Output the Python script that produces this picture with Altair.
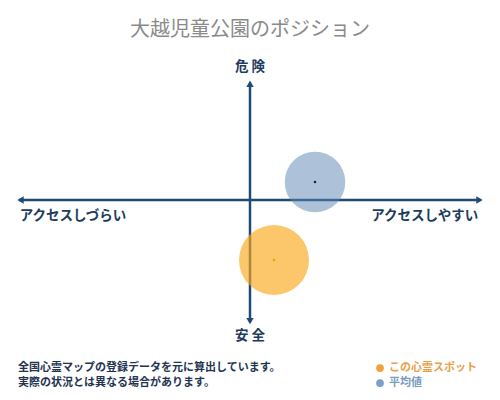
import altair as alt
import pandas as pd

FONT = "Noto Sans CJK JP"
NAVY = "#1f4a75"

# Data: position of this spot and the average (access: -100..100, danger: -100..100)
series = ["この心霊スポット", "平均値"]
access = [10.3, 27.9]
danger = [-48.8, 14.6]
fill_colors = ["#fba71b", "#5c86b4"]
dot_colors = ["#f0a000", "#222222"]

# Axis labels
axis_labels = ["危 険", "安 全", "アクセスしづらい", "アクセスしやすい"]
axis_label_x = [0, 0, -76, 75]
axis_label_y = [108, -110.5, -13, -13]

title_text = "大越児童公園のポジション"
notes = ["全国心霊マップの登録データを元に算出しています。", "実際の状況とは異なる場合があります。"]
note_rows = [-136.6, -148.8]
legend_colors = ["#f2a03c", "#7aa0c8"]
legend_text_colors = ["#e8a04a", "#7a9cc0"]

xs = alt.Scale(domain=[-100, 100], range=[9, 475])
ys = alt.Scale(domain=[-100, 100], range=[315, 69])

pts = pd.DataFrame({"series": series, "access": access, "danger": danger,
                    "fill": fill_colors, "dot": dot_colors})

# axis lines
hline = alt.Chart(pd.DataFrame({"x": [-99], "x2": [99], "y": [0]})).mark_rule(
    color=NAVY, strokeWidth=2.5).encode(
    x=alt.X("x:Q", scale=xs, axis=None), x2="x2:Q", y=alt.Y("y:Q", scale=ys, axis=None))
vline = alt.Chart(pd.DataFrame({"y": [-99], "y2": [94], "x": [0]})).mark_rule(
    color=NAVY, strokeWidth=2.5).encode(
    x=alt.X("x:Q", scale=xs, axis=None), y=alt.Y("y:Q", scale=ys, axis=None), y2="y2:Q")

arrows = pd.DataFrame({
    "x": [-98.5, 98.5, 0, 0],
    "y": [0, 0, 94.5, -98.5],
    "shape": ["triangle-left", "triangle-right", "triangle-up", "triangle-down"],
})
arrow_layer = alt.Chart(arrows).mark_point(filled=True, opacity=1, color=NAVY, size=55).encode(
    x=alt.X("x:Q", scale=xs, axis=None), y=alt.Y("y:Q", scale=ys, axis=None),
    shape=alt.Shape("shape:N", scale=None))

circ_orange = alt.Chart(pts.iloc[[0]]).mark_circle(opacity=0.65, size=4900).encode(
    x=alt.X("access:Q", scale=xs, axis=None), y=alt.Y("danger:Q", scale=ys, axis=None),
    color=alt.Color("fill:N", scale=None))
circ_blue = alt.Chart(pts.iloc[[1]]).mark_circle(opacity=0.5, size=3670).encode(
    x=alt.X("access:Q", scale=xs, axis=None), y=alt.Y("danger:Q", scale=ys, axis=None),
    color=alt.Color("fill:N", scale=None))
centers = alt.Chart(pts).mark_circle(opacity=1, size=7).encode(
    x=alt.X("access:Q", scale=xs, axis=None), y=alt.Y("danger:Q", scale=ys, axis=None),
    color=alt.Color("dot:N", scale=None))

labels = pd.DataFrame({"t": axis_labels, "x": axis_label_x, "y": axis_label_y})
label_layer = alt.Chart(labels).mark_text(font=FONT, fontSize=13.5, fontWeight="bold",
                                          color="#1d3b5e").encode(
    x=alt.X("x:Q", scale=xs, axis=None), y=alt.Y("y:Q", scale=ys, axis=None), text="t:N")

title = alt.Chart(pd.DataFrame({"t": [title_text]})).mark_text(
    font=FONT, fontSize=20, color="#8a8a8a", fontWeight="normal").encode(
    x=alt.value(242), y=alt.value(22), text="t:N")

note_df = pd.DataFrame({"t": notes, "r": note_rows})
note_layer = alt.Chart(note_df).mark_text(
    font=FONT, fontSize=11, fontWeight="bold", color="#1f3350", align="left").encode(
    x=alt.value(10), y=alt.Y("r:Q", scale=ys, axis=None),
    text="t:N")

leg_df = pd.DataFrame({"t": series, "r": note_rows, "c": legend_colors, "tc": legend_text_colors})
leg_y = alt.Y("r:Q", scale=ys, axis=None)
leg_dots = alt.Chart(leg_df).mark_circle(opacity=1, size=60).encode(
    x=alt.value(372), y=leg_y, color=alt.Color("c:N", scale=None))
leg_text = alt.Chart(leg_df).mark_text(font=FONT, fontSize=11, fontWeight="bold",
                                       align="left").encode(
    x=alt.value(381), y=leg_y, text="t:N", color=alt.Color("tc:N", scale=None))

chart = alt.layer(hline, vline, arrow_layer, circ_orange, circ_blue, centers, label_layer,
                  title, note_layer, leg_dots, leg_text).properties(
    width=484, height=384, autosize=alt.AutoSizeParams(type="none"), padding=0,
    background="white").configure_view(stroke=None).resolve_scale(color="independent")

chart.save("out.html", embed_options={"renderer": "svg", "actions": False})
